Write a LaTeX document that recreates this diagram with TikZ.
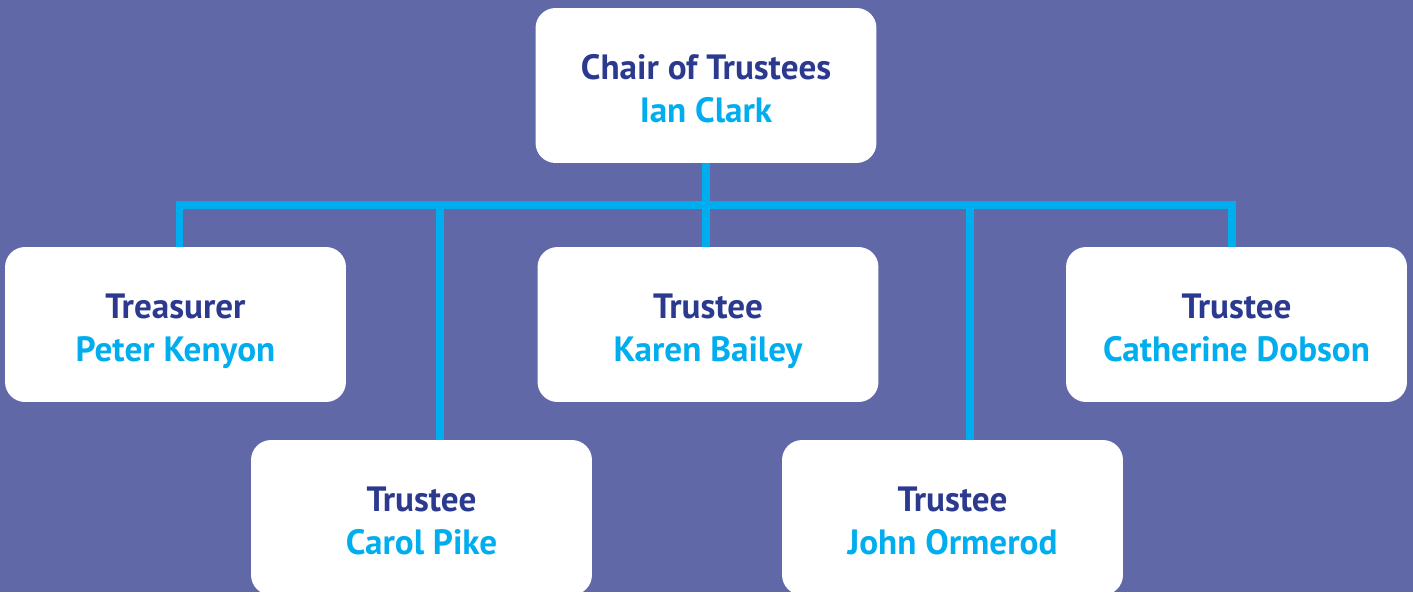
\documentclass[tikz,border=0pt]{standalone}
\usepackage{fontspec}
\setmainfont{PT Sans}
\definecolor{bgblue}{HTML}{6168A7}
\definecolor{darkname}{HTML}{2B3A8E}
\definecolor{lineblue}{HTML}{00AEEF}
\begin{document}
\begin{tikzpicture}[x=0.02cm,y=-0.02cm,
  box/.style={fill=white, rounded corners=0.4cm, minimum width=6.82cm, minimum height=3.1cm,
    align=center, text=darkname, text height=42.5pt, text depth=0pt,
    font=\bfseries\fontsize{20}{24.5}\selectfont},
  link/.style={draw=lineblue, line width=4.5pt}]
\clip (0,0) rectangle (1413,592);
\fill[bgblue] (0,0) rectangle (1413,592);
% bar above the trustees
\coordinate (b1) at (179.5,205);
\coordinate (b2) at (440,205);
\coordinate (b3) at (706,205);
\coordinate (b4) at (970,205);
\coordinate (b5) at (1232,205);
\node[box] (chair) at (706,85.5) {Chair of Trustees\\\color{lineblue}Ian Clark};
\node[box] (treas) at (175.5,324.5) {Treasurer\\\color{lineblue}Peter Kenyon};
\node[box] (karen) at (708,324.5) {Trustee\\\color{lineblue}Karen Bailey};
\node[box] (cath) at (1236.5,324.5) {Trustee\\\color{lineblue}Catherine Dobson};
\node[box] (carol) at (421.5,517.5) {Trustee\\\color{lineblue}Carol Pike};
\node[box] (john) at (952.5,517.5) {Trustee\\\color{lineblue}John Ormerod};
\draw[link] (chair.south -| b3) -- (b3);
\draw[link] (b1 |- treas.north) -- (b1) -- (b5) -- (b5 |- cath.north);
\draw[link] (b2) -- (b2 |- carol.north);
\draw[link] (b3) -- (b3 |- karen.north);
\draw[link] (b4) -- (b4 |- john.north);
\end{tikzpicture}
\end{document}
